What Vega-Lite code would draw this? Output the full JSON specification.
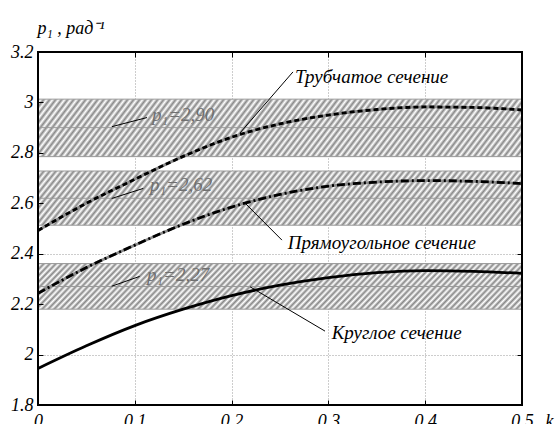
{
"$schema": "https://vega.github.io/schema/vega-lite/v6.json",
"width": 484, "height": 353,
"autosize": {"type": "none"},
"padding": {"left": 38, "top": 52, "right": 33, "bottom": 19},
"background": "white",
"config": {"view": {"stroke": null}},
"datasets": {
 "bands": [{"p": 2.90, "lo": 2.785, "hi": 3.013}, {"p": 2.62, "lo": 2.513, "hi": 2.728}, {"p": 2.27, "lo": 2.18, "hi": 2.361}],
 "curves": [
  {"s": "Круглое", "k": 0, "p": 1.945}, {"s": "Круглое", "k": 0.05, "p": 2.035}, {"s": "Круглое", "k": 0.1, "p": 2.115}, {"s": "Круглое", "k": 0.15, "p": 2.18}, {"s": "Круглое", "k": 0.2, "p": 2.234}, {"s": "Круглое", "k": 0.25, "p": 2.275}, {"s": "Круглое", "k": 0.3, "p": 2.305}, {"s": "Круглое", "k": 0.35, "p": 2.325}, {"s": "Круглое", "k": 0.4, "p": 2.333}, {"s": "Круглое", "k": 0.45, "p": 2.33}, {"s": "Круглое", "k": 0.5, "p": 2.322},
  {"s": "Прямоугольное", "k": 0, "p": 2.243}, {"s": "Прямоугольное", "k": 0.05, "p": 2.345}, {"s": "Прямоугольное", "k": 0.1, "p": 2.434}, {"s": "Прямоугольное", "k": 0.15, "p": 2.517}, {"s": "Прямоугольное", "k": 0.2, "p": 2.585}, {"s": "Прямоугольное", "k": 0.25, "p": 2.635}, {"s": "Прямоугольное", "k": 0.3, "p": 2.668}, {"s": "Прямоугольное", "k": 0.35, "p": 2.684}, {"s": "Прямоугольное", "k": 0.4, "p": 2.69}, {"s": "Прямоугольное", "k": 0.45, "p": 2.687}, {"s": "Прямоугольное", "k": 0.5, "p": 2.678},
  {"s": "Трубчатое", "k": 0, "p": 2.492}, {"s": "Трубчатое", "k": 0.05, "p": 2.6}, {"s": "Трубчатое", "k": 0.1, "p": 2.695}, {"s": "Трубчатое", "k": 0.15, "p": 2.786}, {"s": "Трубчатое", "k": 0.2, "p": 2.862}, {"s": "Трубчатое", "k": 0.25, "p": 2.915}, {"s": "Трубчатое", "k": 0.3, "p": 2.95}, {"s": "Трубчатое", "k": 0.35, "p": 2.972}, {"s": "Трубчатое", "k": 0.4, "p": 2.982}, {"s": "Трубчатое", "k": 0.45, "p": 2.98}, {"s": "Трубчатое", "k": 0.5, "p": 2.97}
 ],
 "pointers": [
  {"x": 0.2087, "y": 2.879, "x2": 0.2634, "y2": 3.121},
  {"x": 0.2138, "y": 2.601, "x2": 0.252, "y2": 2.454},
  {"x": 0.219, "y": 2.269, "x2": 0.2965, "y2": 2.093},
  {"x": 0.0764, "y": 2.904, "x2": 0.1126, "y2": 2.94},
  {"x": 0.0761, "y": 2.619, "x2": 0.1088, "y2": 2.659},
  {"x": 0.0761, "y": 2.271, "x2": 0.105, "y2": 2.31}
 ],
 "notes": [
  {"t": "Трубчатое сечение", "x": 0.2655, "y": 3.10},
  {"t": "Прямоугольное сечение", "x": 0.258, "y": 2.442},
  {"t": "Круглое сечение", "x": 0.3034, "y": 2.084}
 ],
 "plabels": [
  {"t": "p₁=2,90", "x": 0.1178, "y": 2.95},
  {"t": "p₁=2,62", "x": 0.1157, "y": 2.672},
  {"t": "p₁=2,27", "x": 0.1126, "y": 2.315}
 ],
 "frame": [{"f": 1}]
},
"layer": [
 {
  "data": {"name": "bands"},
  "mark": {"type": "rect", "stroke": "#9a9a9a", "strokeWidth": 1,
   "fill": {"gradient": "linear", "x1": 0, "y1": 0, "x2": 1.082, "y2": 0.098, "stops": [
{"offset":0,"color":"#888"},{"offset":0.0057,"color":"#fff"},{"offset":0.0114,"color":"#888"},{"offset":0.017,"color":"#fff"},{"offset":0.0227,"color":"#888"},{"offset":0.0284,"color":"#fff"},{"offset":0.0341,"color":"#888"},{"offset":0.0398,"color":"#fff"},{"offset":0.0455,"color":"#888"},{"offset":0.0511,"color":"#fff"},{"offset":0.0568,"color":"#888"},{"offset":0.0625,"color":"#fff"},{"offset":0.0682,"color":"#888"},{"offset":0.0739,"color":"#fff"},{"offset":0.0795,"color":"#888"},{"offset":0.0852,"color":"#fff"},{"offset":0.0909,"color":"#888"},{"offset":0.0966,"color":"#fff"},{"offset":0.1023,"color":"#888"},{"offset":0.108,"color":"#fff"},{"offset":0.1136,"color":"#888"},{"offset":0.1193,"color":"#fff"},{"offset":0.125,"color":"#888"},{"offset":0.1307,"color":"#fff"},{"offset":0.1364,"color":"#888"},{"offset":0.142,"color":"#fff"},{"offset":0.1477,"color":"#888"},{"offset":0.1534,"color":"#fff"},{"offset":0.1591,"color":"#888"},{"offset":0.1648,"color":"#fff"},{"offset":0.1705,"color":"#888"},{"offset":0.1761,"color":"#fff"},{"offset":0.1818,"color":"#888"},{"offset":0.1875,"color":"#fff"},{"offset":0.1932,"color":"#888"},{"offset":0.1989,"color":"#fff"},{"offset":0.2045,"color":"#888"},{"offset":0.2102,"color":"#fff"},{"offset":0.2159,"color":"#888"},{"offset":0.2216,"color":"#fff"},{"offset":0.2273,"color":"#888"},{"offset":0.233,"color":"#fff"},{"offset":0.2386,"color":"#888"},{"offset":0.2443,"color":"#fff"},{"offset":0.25,"color":"#888"},{"offset":0.2557,"color":"#fff"},{"offset":0.2614,"color":"#888"},{"offset":0.267,"color":"#fff"},{"offset":0.2727,"color":"#888"},{"offset":0.2784,"color":"#fff"},{"offset":0.2841,"color":"#888"},{"offset":0.2898,"color":"#fff"},{"offset":0.2955,"color":"#888"},{"offset":0.3011,"color":"#fff"},{"offset":0.3068,"color":"#888"},{"offset":0.3125,"color":"#fff"},{"offset":0.3182,"color":"#888"},{"offset":0.3239,"color":"#fff"},{"offset":0.3295,"color":"#888"},{"offset":0.3352,"color":"#fff"},{"offset":0.3409,"color":"#888"},{"offset":0.3466,"color":"#fff"},{"offset":0.3523,"color":"#888"},{"offset":0.358,"color":"#fff"},{"offset":0.3636,"color":"#888"},{"offset":0.3693,"color":"#fff"},{"offset":0.375,"color":"#888"},{"offset":0.3807,"color":"#fff"},{"offset":0.3864,"color":"#888"},{"offset":0.392,"color":"#fff"},{"offset":0.3977,"color":"#888"},{"offset":0.4034,"color":"#fff"},{"offset":0.4091,"color":"#888"},{"offset":0.4148,"color":"#fff"},{"offset":0.4205,"color":"#888"},{"offset":0.4261,"color":"#fff"},{"offset":0.4318,"color":"#888"},{"offset":0.4375,"color":"#fff"},{"offset":0.4432,"color":"#888"},{"offset":0.4489,"color":"#fff"},{"offset":0.4545,"color":"#888"},{"offset":0.4602,"color":"#fff"},{"offset":0.4659,"color":"#888"},{"offset":0.4716,"color":"#fff"},{"offset":0.4773,"color":"#888"},{"offset":0.483,"color":"#fff"},{"offset":0.4886,"color":"#888"},{"offset":0.4943,"color":"#fff"},{"offset":0.5,"color":"#888"},{"offset":0.5057,"color":"#fff"},{"offset":0.5114,"color":"#888"},{"offset":0.517,"color":"#fff"},{"offset":0.5227,"color":"#888"},{"offset":0.5284,"color":"#fff"},{"offset":0.5341,"color":"#888"},{"offset":0.5398,"color":"#fff"},{"offset":0.5455,"color":"#888"},{"offset":0.5511,"color":"#fff"},{"offset":0.5568,"color":"#888"},{"offset":0.5625,"color":"#fff"},{"offset":0.5682,"color":"#888"},{"offset":0.5739,"color":"#fff"},{"offset":0.5795,"color":"#888"},{"offset":0.5852,"color":"#fff"},{"offset":0.5909,"color":"#888"},{"offset":0.5966,"color":"#fff"},{"offset":0.6023,"color":"#888"},{"offset":0.608,"color":"#fff"},{"offset":0.6136,"color":"#888"},{"offset":0.6193,"color":"#fff"},{"offset":0.625,"color":"#888"},{"offset":0.6307,"color":"#fff"},{"offset":0.6364,"color":"#888"},{"offset":0.642,"color":"#fff"},{"offset":0.6477,"color":"#888"},{"offset":0.6534,"color":"#fff"},{"offset":0.6591,"color":"#888"},{"offset":0.6648,"color":"#fff"},{"offset":0.6705,"color":"#888"},{"offset":0.6761,"color":"#fff"},{"offset":0.6818,"color":"#888"},{"offset":0.6875,"color":"#fff"},{"offset":0.6932,"color":"#888"},{"offset":0.6989,"color":"#fff"},{"offset":0.7045,"color":"#888"},{"offset":0.7102,"color":"#fff"},{"offset":0.7159,"color":"#888"},{"offset":0.7216,"color":"#fff"},{"offset":0.7273,"color":"#888"},{"offset":0.733,"color":"#fff"},{"offset":0.7386,"color":"#888"},{"offset":0.7443,"color":"#fff"},{"offset":0.75,"color":"#888"},{"offset":0.7557,"color":"#fff"},{"offset":0.7614,"color":"#888"},{"offset":0.767,"color":"#fff"},{"offset":0.7727,"color":"#888"},{"offset":0.7784,"color":"#fff"},{"offset":0.7841,"color":"#888"},{"offset":0.7898,"color":"#fff"},{"offset":0.7955,"color":"#888"},{"offset":0.8011,"color":"#fff"},{"offset":0.8068,"color":"#888"},{"offset":0.8125,"color":"#fff"},{"offset":0.8182,"color":"#888"},{"offset":0.8239,"color":"#fff"},{"offset":0.8295,"color":"#888"},{"offset":0.8352,"color":"#fff"},{"offset":0.8409,"color":"#888"},{"offset":0.8466,"color":"#fff"},{"offset":0.8523,"color":"#888"},{"offset":0.858,"color":"#fff"},{"offset":0.8636,"color":"#888"},{"offset":0.8693,"color":"#fff"},{"offset":0.875,"color":"#888"},{"offset":0.8807,"color":"#fff"},{"offset":0.8864,"color":"#888"},{"offset":0.892,"color":"#fff"},{"offset":0.8977,"color":"#888"},{"offset":0.9034,"color":"#fff"},{"offset":0.9091,"color":"#888"},{"offset":0.9148,"color":"#fff"},{"offset":0.9205,"color":"#888"},{"offset":0.9261,"color":"#fff"},{"offset":0.9318,"color":"#888"},{"offset":0.9375,"color":"#fff"},{"offset":0.9432,"color":"#888"},{"offset":0.9489,"color":"#fff"},{"offset":0.9545,"color":"#888"},{"offset":0.9602,"color":"#fff"},{"offset":0.9659,"color":"#888"},{"offset":0.9716,"color":"#fff"},{"offset":0.9773,"color":"#888"},{"offset":0.983,"color":"#fff"},{"offset":0.9886,"color":"#888"},{"offset":0.9943,"color":"#fff"},{"offset":1,"color":"#888"}
   ]}},
  "encoding": {
   "x": {"datum": 0, "type": "quantitative", "scale": {"domain": [0, 0.5], "nice": false, "zero": false},
    "axis": {"orient": "bottom", "values": [0, 0.1, 0.2, 0.3, 0.4, 0.5], "format": "~g", "grid": false, "domain": false, "ticks": true, "tickSize": -5, "tickColor": "black", "tickWidth": 1, "labelFont": "Liberation Serif", "labelFontStyle": "italic", "labelFontSize": 18, "labelColor": "black", "labelPadding": 26, "labelBaseline": "alphabetic", "labelFlush": false, "labelOverlap": false, "title": "k", "titleFont": "Liberation Serif", "titleFontStyle": "italic", "titleFontWeight": "normal", "titleFontSize": 18, "titleColor": "black", "titleX": 511, "titleY": 21, "titleAlign": "center", "titleBaseline": "alphabetic", "zindex": 1}},
   "x2": {"datum": 0.5},
   "y": {"field": "lo", "type": "quantitative", "scale": {"domain": [1.8, 3.2], "nice": false, "zero": false},
    "axis": {"orient": "left", "values": [1.8, 2, 2.2, 2.4, 2.6, 2.8, 3, 3.2], "format": "~g", "grid": false, "domain": false, "ticks": true, "tickSize": -5, "tickColor": "black", "tickWidth": 1, "labelFont": "Liberation Serif", "labelFontStyle": "italic", "labelFontSize": 18, "labelColor": "black", "labelPadding": 10, "labelBaseline": "middle", "labelFlush": false, "labelOverlap": false, "title": "p₁ , рад⁻¹", "titleAngle": 0, "titleAlign": "left", "titleBaseline": "alphabetic", "titleX": -1, "titleY": -19, "titleFont": "Liberation Serif", "titleFontStyle": "italic", "titleFontWeight": "normal", "titleFontSize": 18, "titleColor": "black", "zindex": 1}},
   "y2": {"field": "hi"}
  }
 },
 {
  "data": {"name": "bands"},
  "mark": {"type": "rule", "color": "#9a9a9a", "strokeWidth": 1},
  "encoding": {
   "y": {"field": "p", "type": "quantitative", "scale": {"domain": [1.8, 3.2], "nice": false, "zero": false}, "axis": null}
  }
 },
 {
  "data": {"name": "curves"},
  "transform": [{"filter": "datum.s !== 'Круглое'"}],
  "mark": {"type": "line", "color": "#8c8c8c", "strokeWidth": 2.8, "interpolate": "monotone"},
  "encoding": {
   "x": {"field": "k", "type": "quantitative", "scale": {"domain": [0, 0.5], "nice": false, "zero": false}, "axis": null},
   "y": {"field": "p", "type": "quantitative", "scale": {"domain": [1.8, 3.2], "nice": false, "zero": false}, "axis": null},
   "detail": {"field": "s"}
  }
 },
 {
  "data": {"name": "curves"},
  "transform": [{"filter": "datum.s === 'Круглое'"}],
  "mark": {"type": "line", "color": "black", "strokeWidth": 2.8, "interpolate": "monotone"},
  "encoding": {
   "x": {"field": "k", "type": "quantitative", "scale": {"domain": [0, 0.5], "nice": false, "zero": false}, "axis": null},
   "y": {"field": "p", "type": "quantitative", "scale": {"domain": [1.8, 3.2], "nice": false, "zero": false}, "axis": null}
  }
 },
 {
  "data": {"name": "curves"},
  "transform": [{"filter": "datum.s === 'Прямоугольное'"}],
  "mark": {"type": "line", "color": "black", "strokeWidth": 2.8, "strokeDash": [8, 3, 2, 3], "interpolate": "monotone"},
  "encoding": {
   "x": {"field": "k", "type": "quantitative", "scale": {"domain": [0, 0.5], "nice": false, "zero": false}, "axis": null},
   "y": {"field": "p", "type": "quantitative", "scale": {"domain": [1.8, 3.2], "nice": false, "zero": false}, "axis": null}
  }
 },
 {
  "data": {"name": "curves"},
  "transform": [{"filter": "datum.s === 'Трубчатое'"}],
  "mark": {"type": "line", "color": "black", "strokeWidth": 2.8, "strokeDash": [5, 3], "interpolate": "monotone"},
  "encoding": {
   "x": {"field": "k", "type": "quantitative", "scale": {"domain": [0, 0.5], "nice": false, "zero": false}, "axis": null},
   "y": {"field": "p", "type": "quantitative", "scale": {"domain": [1.8, 3.2], "nice": false, "zero": false}, "axis": null}
  }
 },
 {
  "data": {"name": "pointers"},
  "mark": {"type": "rule", "color": "black", "strokeWidth": 1},
  "encoding": {
   "x": {"field": "x", "type": "quantitative", "scale": {"domain": [0, 0.5], "nice": false, "zero": false},
    "axis": {"orient": "top", "values": [0.1, 0.2, 0.3, 0.4], "labels": false, "domain": false, "ticks": true, "tickSize": -5, "tickColor": "black", "grid": true, "gridColor": "#9a9a9a", "gridDash": [1, 2], "gridWidth": 1, "title": null, "zindex": 0}},
   "x2": {"field": "x2"},
   "y": {"field": "y", "type": "quantitative", "scale": {"domain": [1.8, 3.2], "nice": false, "zero": false},
    "axis": {"orient": "right", "values": [2, 2.2, 2.4, 2.6, 2.8, 3], "labels": false, "domain": false, "ticks": true, "tickSize": -5, "tickColor": "black", "grid": true, "gridColor": "#9a9a9a", "gridDash": [1, 2], "gridWidth": 1, "title": null, "zindex": 0}},
   "y2": {"field": "y2"}
  }
 },
 {
  "data": {"name": "notes"},
  "mark": {"type": "text", "font": "Liberation Serif", "fontStyle": "italic", "fontSize": 19, "align": "left", "baseline": "middle", "color": "black"},
  "encoding": {
   "x": {"field": "x", "type": "quantitative", "scale": {"domain": [0, 0.5], "nice": false, "zero": false}, "axis": null},
   "y": {"field": "y", "type": "quantitative", "scale": {"domain": [1.8, 3.2], "nice": false, "zero": false}, "axis": null},
   "text": {"field": "t"}
  }
 },
 {
  "data": {"name": "plabels"},
  "mark": {"type": "text", "font": "Liberation Serif", "fontStyle": "italic", "fontSize": 19, "align": "left", "baseline": "middle", "color": "#707070"},
  "encoding": {
   "x": {"field": "x", "type": "quantitative", "scale": {"domain": [0, 0.5], "nice": false, "zero": false}, "axis": null},
   "y": {"field": "y", "type": "quantitative", "scale": {"domain": [1.8, 3.2], "nice": false, "zero": false}, "axis": null},
   "text": {"field": "t"}
  }
 },
 {
  "data": {"name": "frame"},
  "mark": {"type": "rect", "fillOpacity": 0, "stroke": "black", "strokeWidth": 2},
  "encoding": {
   "x": {"datum": 0, "type": "quantitative", "scale": {"domain": [0, 0.5], "nice": false, "zero": false}, "axis": null},
   "x2": {"datum": 0.5},
   "y": {"datum": 1.8, "type": "quantitative", "scale": {"domain": [1.8, 3.2], "nice": false, "zero": false}, "axis": null},
   "y2": {"datum": 3.2}
  }
 }
]
}
